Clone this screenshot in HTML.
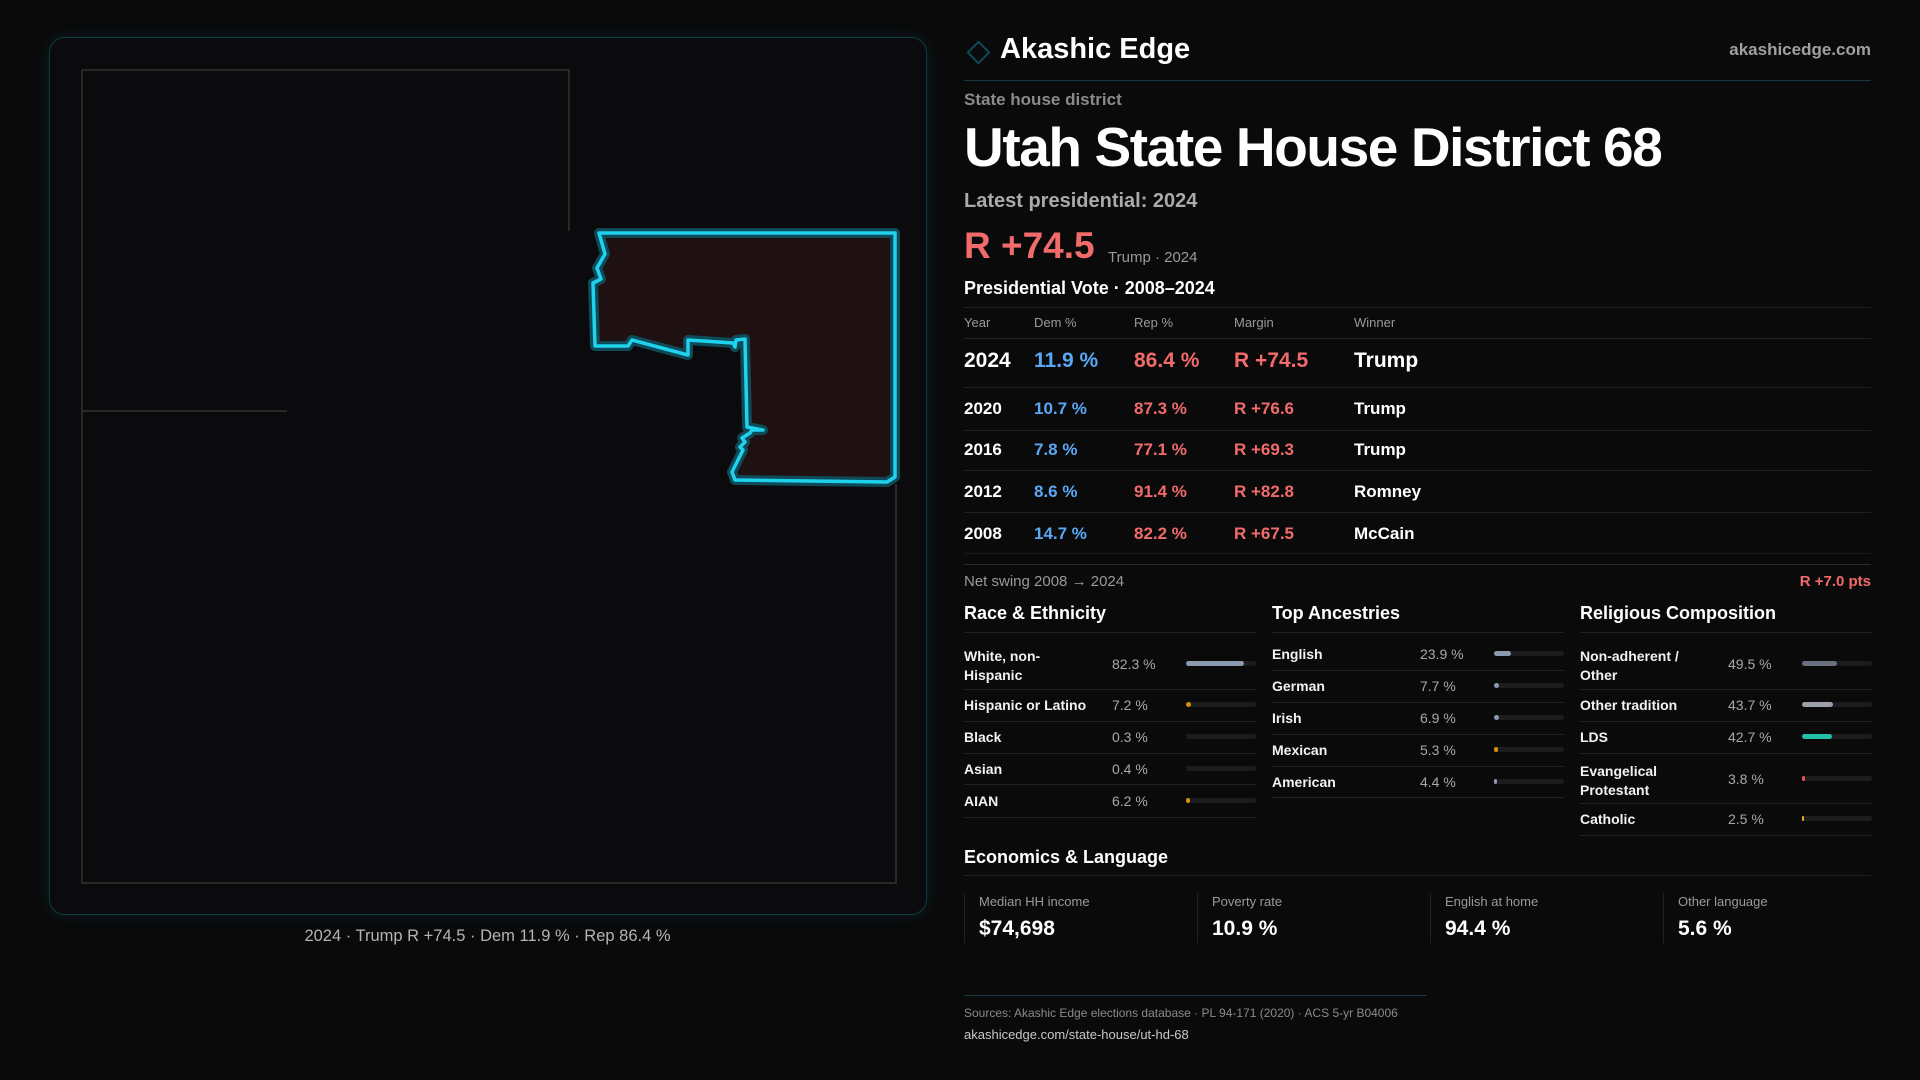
<!DOCTYPE html>
<html><head><meta charset="utf-8"><style>
*{margin:0;padding:0;box-sizing:border-box}
body{width:1920px;height:1080px;background:#0a0a0b;font-family:"Liberation Sans",sans-serif;color:#fff;position:relative;overflow:hidden}
.a{position:absolute;white-space:nowrap;line-height:1}
.g{color:#9a9a9a}
.ln{position:absolute;height:1px;background:#222}
.red{color:#f26b6b}.blue{color:#5aa8f5}
.lab{font-size:14px;font-weight:bold;color:#f2f2f2}
.val{font-size:14px;color:#a8a8a8}
.tr{position:absolute;height:5px;border-radius:3px;background:#1c1c1f;width:70px}
.tr i{display:block;height:5px;border-radius:3px}
</style></head><body>
<div style="position:absolute;left:49px;top:37px;width:878px;height:878px;border:1px solid #0f3b44;border-radius:16px;background:#0b0b0d;box-shadow:0 0 14px rgba(20,120,140,.18)"></div>
<svg class="a" style="left:0;top:0" width="960" height="960">
<g stroke="#333" stroke-width="1.5" fill="none">
<polyline points="82,70 569,70 569,231"/>
<polyline points="82,70 82,883 896,883 896,484"/>
<line x1="82" y1="411" x2="287" y2="411"/>
</g>
<polygon points="599,233 895,233 895,477 887,482 735,480 732,472 743,450 740,447 745,442 742,438 750,433 752,430 763,430 747,427 745,339 736,340 735,347 733,343 688,340 688,355 632,340 628,346 595,346 593,283 601,279 597,268 605,254" fill="#1f1012" stroke="#0e4a58" stroke-width="10" stroke-linejoin="round"/>
<polygon points="599,233 895,233 895,477 887,482 735,480 732,472 743,450 740,447 745,442 742,438 750,433 752,430 763,430 747,427 745,339 736,340 735,347 733,343 688,340 688,355 632,340 628,346 595,346 593,283 601,279 597,268 605,254" fill="none" stroke="#1fd2ee" stroke-width="3.5" stroke-linejoin="round"/>
</svg>
<div class="a" style="left:0;width:975px;text-align:center;top:928px;font-size:16.5px;color:#b4b4b4">2024 · Trump R +74.5 · Dem 11.9 % · Rep 86.4 %</div>

<div class="a" style="left:970px;top:44px;width:17px;height:17px;border:2px solid #0e4a58;transform:rotate(45deg)"></div>
<div class="a" style="left:1000px;top:35px;font-size:29px;font-weight:bold">Akashic Edge</div>
<div class="a g" style="right:49px;top:41px;font-size:17px;font-weight:bold;color:#a0a0a0">akashicedge.com</div>
<div class="ln" style="left:964px;width:907px;top:80px;background:#143a40"></div>
<div class="a g" style="left:964px;top:91px;font-size:17px;font-weight:bold;color:#8a8a8a">State house district</div>
<div class="a" style="left:964px;top:120px;font-size:55px;font-weight:bold;letter-spacing:-1.4px">Utah State House District 68</div>
<div class="a" style="left:964px;top:191px;font-size:20px;font-weight:bold;color:#aaa">Latest presidential: 2024</div>
<div class="a red" style="left:964px;top:227px;font-size:37px;font-weight:bold">R +74.5</div>
<div class="a g" style="left:1108px;top:250px;font-size:15px">Trump · 2024</div>
<div class="a" style="left:964px;top:279px;font-size:18px;font-weight:bold">Presidential Vote · 2008–2024</div>
<div class="ln" style="left:964px;width:907px;top:307px"></div>
<div class="a g" style="left:964px;top:316px;font-size:13px">Year</div>
<div class="a g" style="left:1034px;top:316px;font-size:13px">Dem %</div>
<div class="a g" style="left:1134px;top:316px;font-size:13px">Rep %</div>
<div class="a g" style="left:1234px;top:316px;font-size:13px">Margin</div>
<div class="a g" style="left:1354px;top:316px;font-size:13px">Winner</div>
<div class="ln" style="left:964px;width:907px;top:338px"></div>
<div style="position:absolute;left:964px;top:350px;font-size:21px;font-weight:bold;line-height:1">
<span class="a" style="left:0">2024</span><span class="a blue" style="left:70px">11.9 %</span><span class="a red" style="left:170px">86.4 %</span><span class="a red" style="left:270px">R +74.5</span><span class="a" style="left:390px">Trump</span></div>
<div class="ln" style="left:964px;width:907px;top:387px"></div>
<div style="position:absolute;left:964px;top:400px;font-size:17px;font-weight:bold;line-height:1">
<span class="a" style="left:0">2020</span><span class="a blue" style="left:70px">10.7 %</span><span class="a red" style="left:170px">87.3 %</span><span class="a red" style="left:270px">R +76.6</span><span class="a" style="left:390px">Trump</span></div>
<div class="ln" style="left:964px;width:907px;top:430px"></div>
<div style="position:absolute;left:964px;top:441px;font-size:17px;font-weight:bold;line-height:1">
<span class="a" style="left:0">2016</span><span class="a blue" style="left:70px">7.8 %</span><span class="a red" style="left:170px">77.1 %</span><span class="a red" style="left:270px">R +69.3</span><span class="a" style="left:390px">Trump</span></div>
<div class="ln" style="left:964px;width:907px;top:470px"></div>
<div style="position:absolute;left:964px;top:483px;font-size:17px;font-weight:bold;line-height:1">
<span class="a" style="left:0">2012</span><span class="a blue" style="left:70px">8.6 %</span><span class="a red" style="left:170px">91.4 %</span><span class="a red" style="left:270px">R +82.8</span><span class="a" style="left:390px">Romney</span></div>
<div class="ln" style="left:964px;width:907px;top:512px"></div>
<div style="position:absolute;left:964px;top:525px;font-size:17px;font-weight:bold;line-height:1">
<span class="a" style="left:0">2008</span><span class="a blue" style="left:70px">14.7 %</span><span class="a red" style="left:170px">82.2 %</span><span class="a red" style="left:270px">R +67.5</span><span class="a" style="left:390px">McCain</span></div>
<div class="ln" style="left:964px;width:907px;top:553px;background:#1a1a1a"></div>
<div class="ln" style="left:964px;width:907px;top:564px;background:#2a2a2a"></div>
<div class="a g" style="left:964px;top:574px;font-size:15px">Net swing 2008 → 2024</div>
<div class="a red" style="right:49px;top:574px;font-size:15px;font-weight:bold">R +7.0 pts</div>

<div class="a" style="left:964px;top:604px;font-size:18px;font-weight:bold">Race &amp; Ethnicity</div>
<div class="a" style="left:1272px;top:604px;font-size:18px;font-weight:bold">Top Ancestries</div>
<div class="a" style="left:1580px;top:604px;font-size:18px;font-weight:bold">Religious Composition</div>
<div class="ln" style="left:964px;width:292px;top:632px"></div>
<div class="ln" style="left:1272px;width:292px;top:632px"></div>
<div class="ln" style="left:1580px;width:292px;top:632px"></div>

<div class="a lab" style="left:964px;top:647px;line-height:19px">White, non-<br>Hispanic</div>
<div class="a val" style="left:1112px;top:657px">82.3 %</div>
<div class="tr" style="left:1186px;top:661px"><i style="width:58px;background:#8c9ab0"></i></div>
<div class="ln" style="left:964px;width:292px;top:689px"></div>
<div class="a lab" style="left:964px;top:698px">Hispanic or Latino</div>
<div class="a val" style="left:1112px;top:698px">7.2 %</div>
<div class="tr" style="left:1186px;top:702px"><i style="width:5px;background:#d4900a"></i></div>
<div class="ln" style="left:964px;width:292px;top:721px"></div>
<div class="a lab" style="left:964px;top:730px">Black</div>
<div class="a val" style="left:1112px;top:730px">0.3 %</div>
<div class="tr" style="left:1186px;top:734px"></div>
<div class="ln" style="left:964px;width:292px;top:753px"></div>
<div class="a lab" style="left:964px;top:762px">Asian</div>
<div class="a val" style="left:1112px;top:762px">0.4 %</div>
<div class="tr" style="left:1186px;top:766px"></div>
<div class="ln" style="left:964px;width:292px;top:784px"></div>
<div class="a lab" style="left:964px;top:794px">AIAN</div>
<div class="a val" style="left:1112px;top:794px">6.2 %</div>
<div class="tr" style="left:1186px;top:798px"><i style="width:4px;background:#d4900a"></i></div>
<div class="ln" style="left:964px;width:292px;top:817px"></div>

<div class="a lab" style="left:1272px;top:647px">English</div>
<div class="a val" style="left:1420px;top:647px">23.9 %</div>
<div class="tr" style="left:1494px;top:651px"><i style="width:17px;background:#8c9ab0"></i></div>
<div class="ln" style="left:1272px;width:292px;top:670px"></div>
<div class="a lab" style="left:1272px;top:679px">German</div>
<div class="a val" style="left:1420px;top:679px">7.7 %</div>
<div class="tr" style="left:1494px;top:683px"><i style="width:5px;background:#8c9ab0"></i></div>
<div class="ln" style="left:1272px;width:292px;top:702px"></div>
<div class="a lab" style="left:1272px;top:711px">Irish</div>
<div class="a val" style="left:1420px;top:711px">6.9 %</div>
<div class="tr" style="left:1494px;top:715px"><i style="width:5px;background:#8c9ab0"></i></div>
<div class="ln" style="left:1272px;width:292px;top:734px"></div>
<div class="a lab" style="left:1272px;top:743px">Mexican</div>
<div class="a val" style="left:1420px;top:743px">5.3 %</div>
<div class="tr" style="left:1494px;top:747px"><i style="width:4px;background:#d4900a"></i></div>
<div class="ln" style="left:1272px;width:292px;top:766px"></div>
<div class="a lab" style="left:1272px;top:775px">American</div>
<div class="a val" style="left:1420px;top:775px">4.4 %</div>
<div class="tr" style="left:1494px;top:779px"><i style="width:3px;background:#8c9ab0"></i></div>
<div class="ln" style="left:1272px;width:292px;top:797px"></div>

<div class="a lab" style="left:1580px;top:647px;line-height:19px">Non-adherent /<br>Other</div>
<div class="a val" style="left:1728px;top:657px">49.5 %</div>
<div class="tr" style="left:1802px;top:661px"><i style="width:35px;background:#6b7080"></i></div>
<div class="ln" style="left:1580px;width:292px;top:689px"></div>
<div class="a lab" style="left:1580px;top:698px">Other tradition</div>
<div class="a val" style="left:1728px;top:698px">43.7 %</div>
<div class="tr" style="left:1802px;top:702px"><i style="width:31px;background:#9ca0aa"></i></div>
<div class="ln" style="left:1580px;width:292px;top:721px"></div>
<div class="a lab" style="left:1580px;top:730px">LDS</div>
<div class="a val" style="left:1728px;top:730px">42.7 %</div>
<div class="tr" style="left:1802px;top:734px"><i style="width:30px;background:#22c0a8"></i></div>
<div class="ln" style="left:1580px;width:292px;top:753px"></div>
<div class="a lab" style="left:1580px;top:762px;line-height:19px">Evangelical<br>Protestant</div>
<div class="a val" style="left:1728px;top:772px">3.8 %</div>
<div class="tr" style="left:1802px;top:776px"><i style="width:3px;background:#e05555"></i></div>
<div class="ln" style="left:1580px;width:292px;top:803px"></div>
<div class="a lab" style="left:1580px;top:812px">Catholic</div>
<div class="a val" style="left:1728px;top:812px">2.5 %</div>
<div class="tr" style="left:1802px;top:816px"><i style="width:2px;background:#e8b020"></i></div>
<div class="ln" style="left:1580px;width:292px;top:835px"></div>

<div class="a" style="left:964px;top:848px;font-size:18px;font-weight:bold">Economics &amp; Language</div>
<div class="ln" style="left:964px;width:907px;top:875px"></div>
<div style="position:absolute;left:964px;top:893px;width:1px;height:50px;background:#222"></div>
<div style="position:absolute;left:1197px;top:893px;width:1px;height:50px;background:#222"></div>
<div style="position:absolute;left:1430px;top:893px;width:1px;height:50px;background:#222"></div>
<div style="position:absolute;left:1663px;top:893px;width:1px;height:50px;background:#222"></div>
<div class="a g" style="left:979px;top:895px;font-size:13px">Median HH income</div>
<div class="a" style="left:979px;top:918px;font-size:21px;font-weight:bold">$74,698</div>
<div class="a g" style="left:1212px;top:895px;font-size:13px">Poverty rate</div>
<div class="a" style="left:1212px;top:918px;font-size:21px;font-weight:bold">10.9 %</div>
<div class="a g" style="left:1445px;top:895px;font-size:13px">English at home</div>
<div class="a" style="left:1445px;top:918px;font-size:21px;font-weight:bold">94.4 %</div>
<div class="a g" style="left:1678px;top:895px;font-size:13px">Other language</div>
<div class="a" style="left:1678px;top:918px;font-size:21px;font-weight:bold">5.6 %</div>

<div class="ln" style="left:964px;width:463px;top:995px;background:#143a40"></div>
<div class="a g" style="left:964px;top:1007px;font-size:12px;color:#8a8a8a">Sources: Akashic Edge elections database · PL 94-171 (2020) · ACS 5-yr B04006</div>
<div class="a" style="left:964px;top:1028px;font-size:13px;color:#c8c8c8">akashicedge.com/state-house/ut-hd-68</div>
</body></html>
